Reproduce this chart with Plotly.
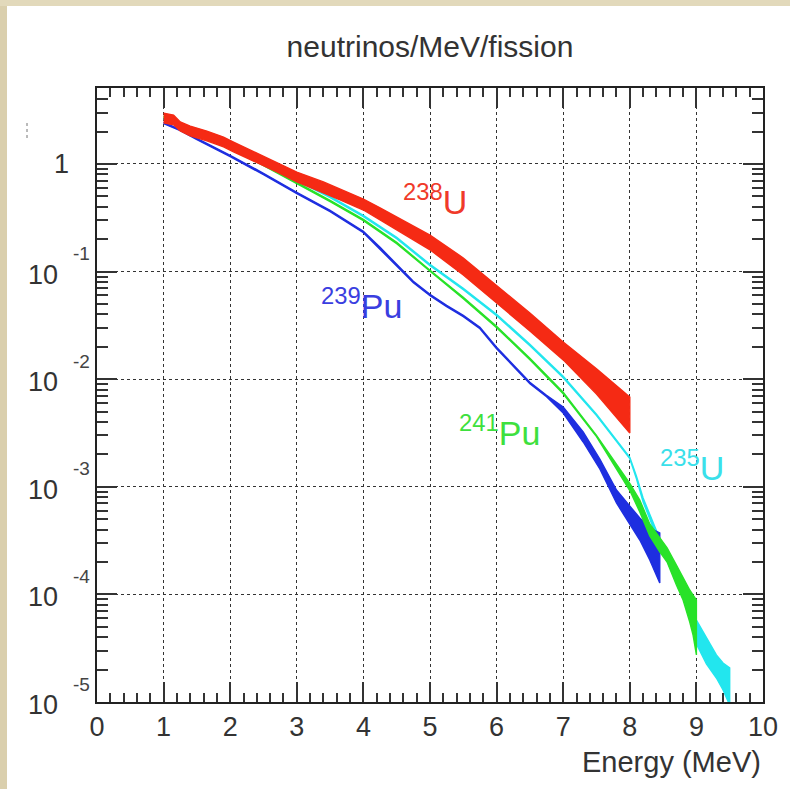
import plotly.graph_objects as go

# ---------------- data ----------------
# Energy grid (MeV) and spectrum values (neutrinos/MeV/fission), with fractional band widths
E_U238 = [1.0, 1.15, 1.25, 1.4, 1.65, 1.9, 2.05, 2.4, 2.7, 3.0, 3.4, 3.65, 4.0, 4.25, 4.5,
          5.0, 5.5, 6.0, 6.5, 7.0, 7.5, 8.0]
S_U238 = [2.676, 2.565, 2.231, 2.026, 1.820, 1.602, 1.439, 1.137, 0.938, 0.757, 0.605, 0.521,
          0.420, 0.343, 0.280, 0.1864, 0.1115, 0.0619, 0.0340, 0.01829, 0.00952, 0.00465]
U_U238 = [0.11, 0.11, 0.10, 0.11, 0.11, 0.11, 0.11, 0.11, 0.11, 0.11, 0.125, 0.125, 0.125,
          0.14, 0.15, 0.17, 0.20, 0.21, 0.21, 0.21, 0.31, 0.47]

E_U235 = [1.0, 1.25, 1.5, 2.0, 2.5, 3.0, 3.5, 4.0, 4.5, 5.0, 5.5, 6.0, 6.5, 7.0, 7.5, 8.0,
          8.1, 8.2, 8.5, 8.8, 8.9, 9.0, 9.15, 9.3, 9.4, 9.5]
S_U235 = [2.619, 2.255, 1.942, 1.408, 1.022, 0.710, 0.4935, 0.3286, 0.2053, 0.1151, 0.0689,
          0.03951, 0.02078, 0.01048, 0.00465, 0.001852, 0.00122, 0.000754, 0.0002586,
          0.0001099, 7.64e-5, 4.47e-5, 2.98e-5, 2.14e-5, 1.726e-5, 1.393e-5]
U_U235 = [0.015, 0.015, 0.015, 0.015, 0.015, 0.015, 0.015, 0.015, 0.015, 0.015, 0.015, 0.015,
          0.015, 0.015, 0.015, 0.015, 0.03, 0.044, 0.066, 0.10, 0.19, 0.29, 0.32, 0.28, 0.335, 0.49]

E_Pu239 = [1.0, 1.25, 1.5, 2.0, 2.5, 3.0, 3.5, 4.0, 4.25, 4.5, 4.75, 5.0, 5.25, 5.5, 5.75,
           6.0, 6.25, 6.5, 6.75, 7.0, 7.3, 7.55, 7.8, 8.0, 8.15, 8.3, 8.45]
S_Pu239 = [2.404, 2.070, 1.707, 1.187, 0.807, 0.538, 0.3658, 0.2333, 0.1657, 0.1151, 0.0800,
           0.0606, 0.0479, 0.03867, 0.02990, 0.01950, 0.01327, 0.00922, 0.00698, 0.00517,
           0.002903, 0.001629, 0.000812, 0.000547, 0.000405, 0.000294, 0.000218]
U_Pu239 = [0.015] * 19 + [0.066, 0.113, 0.113, 0.149, 0.212, 0.265, 0.408, 0.708]

E_Pu241 = [1.0, 1.25, 1.5, 2.0, 2.5, 3.0, 3.5, 4.0, 4.5, 5.0, 5.5, 6.0, 6.5, 7.0, 7.5, 8.0,
           8.15, 8.3, 8.45, 8.56, 8.7, 8.8, 8.9, 8.95, 9.0]
S_Pu241 = [2.734, 2.353, 1.983, 1.408, 0.979, 0.666, 0.453, 0.3017, 0.1844, 0.1013, 0.0568,
           0.03055, 0.01541, 0.00744, 0.002965, 0.000996, 0.000663, 0.000397, 0.000288,
           0.0002324, 0.0001515, 0.0001122, 7.80e-5, 6.43e-5, 4.93e-5]
U_Pu241 = [0.015] * 15 + [0.08, 0.137, 0.137, 0.162, 0.162, 0.239, 0.265, 0.408, 0.534, 0.80]

ISOTOPES = [
    # name, sup, symbol, E, S, U, colour, text colour, label E, label log10(y)
    ("U235", "235", "U", E_U235, S_U235, U_U235, "#22e6ee", "#3ae0ea", 8.43, -2.80),
    ("Pu239", "239", "Pu", E_Pu239, S_Pu239, U_Pu239, "#1e2ee0", "#3a3ee0", 3.33, -1.30),
    ("Pu241", "241", "Pu", E_Pu241, S_Pu241, U_Pu241, "#28e228", "#3ee03e", 5.40, -2.48),
    ("U238", "238", "U", E_U238, S_U238, U_U238, "#f52a14", "#f03a2a", 4.56, -0.33),
]

TITLE = "neutrinos/MeV/fission"
XTITLE = "Energy (MeV)"
X_TICKS = list(range(0, 11))
Y_DECADES = [0, -1, -2, -3, -4, -5]

# ---------------- figure ----------------
W, H = 790, 789
ML, MR, MT, MB = 97, 27, 88, 87
PW, PH = W - ML - MR, H - MT - MB
FONT = "Liberation Sans, Arial, sans-serif"

fig = go.Figure()

for name, sup, sym, E, S, U, col, tcol, lx, ly in ISOTOPES:
    hi = [s * (1 + u) for s, u in zip(S, U)]
    lo = [s / (1 + u) for s, u in zip(S, U)]
    fig.add_trace(go.Scatter(
        x=E + E[::-1], y=hi + lo[::-1], mode="lines", fill="toself",
        fillcolor=col, line=dict(color=col, width=1.4), name=name,
        showlegend=False, hoverinfo="skip"))

ann = []
for name, sup, sym, E, S, U, col, tcol, lx, ly in ISOTOPES:
    ann.append(dict(x=lx, y=ly, xref="x", yref="y", xanchor="left", yanchor="middle",
                    text=f"<sup>{sup}</sup>{sym}", showarrow=False,
                    font=dict(family=FONT, size=34, color=tcol)))

def px_x(px):
    return (px - ML) / PW

def px_y(py):
    return (H - MB - py) / PH

# y-axis labels, ROOT style
for d in Y_DECADES:
    if d == 0:
        ann.append(dict(x=px_x(61), y=d, xref="paper", yref="y", xanchor="center",
                        yanchor="middle", text="1", showarrow=False,
                        font=dict(family=FONT, size=27, color="#333")))
    else:
        ann.append(dict(x=px_x(43), y=d, xref="paper", yref="y", xanchor="center",
                        yanchor="middle", text="10", showarrow=False, yshift=-3,
                        font=dict(family=FONT, size=27, color="#333")))
        ann.append(dict(x=px_x(81), y=d, xref="paper", yref="y", xanchor="center",
                        yanchor="middle", text=str(d), showarrow=False, yshift=18,
                        font=dict(family=FONT, size=19, color="#444")))

ann.append(dict(x=1, y=0, xref="paper", yref="paper", xanchor="right", yanchor="top",
                yshift=-42, text=XTITLE, showarrow=False,
                font=dict(family=FONT, size=29, color="#333")))

axis_common = dict(
    showline=True, linecolor="#222", linewidth=2, mirror="allticks",
    ticks="inside", tickcolor="#333", tickwidth=2,
    showgrid=True, gridcolor="#333", gridwidth=1, griddash="3px,3px",
    zeroline=False,
)

fig.update_layout(
    width=W, height=H,
    margin=dict(l=ML, r=MR, t=MT, b=MB, pad=0),
    paper_bgcolor="white", plot_bgcolor="white",
    title=dict(text=TITLE, x=(ML + PW / 2) / W, xanchor="center", y=1 - 46 / H,
               yanchor="middle",
               font=dict(family=FONT, size=30, color="#333")),
    xaxis=dict(range=[0, 10], tickvals=X_TICKS, ticklen=20,
               minor=dict(ticks="inside", dtick=0.2, ticklen=9, tickwidth=2, tickcolor="#333",
                          showgrid=False),
               tickfont=dict(family=FONT, size=27, color="#333"),
               **axis_common),
    yaxis=dict(type="log", range=[-5, 0.706], dtick=1, ticklen=20, showticklabels=False,
               minor=dict(ticks="inside", dtick="D1", ticklen=11, tickwidth=2, tickcolor="#333",
                          showgrid=False),
               **axis_common),
    annotations=ann,
    shapes=[
        dict(type="rect", xref="paper", yref="paper", x0=px_x(0), x1=px_x(7),
             y0=px_y(H), y1=px_y(0), fillcolor="#dacfad", line=dict(width=0), layer="above"),
        dict(type="rect", xref="paper", yref="paper", x0=px_x(0), x1=px_x(W),
             y0=px_y(6), y1=px_y(0), fillcolor="#e2d9bb", line=dict(width=0), layer="above"),
        dict(type="line", xref="paper", yref="paper", x0=px_x(27), x1=px_x(27),
             y0=px_y(138), y1=px_y(121), line=dict(color="#777", width=1, dash="dot")),
    ],
)

fig.write_html("out.html")
